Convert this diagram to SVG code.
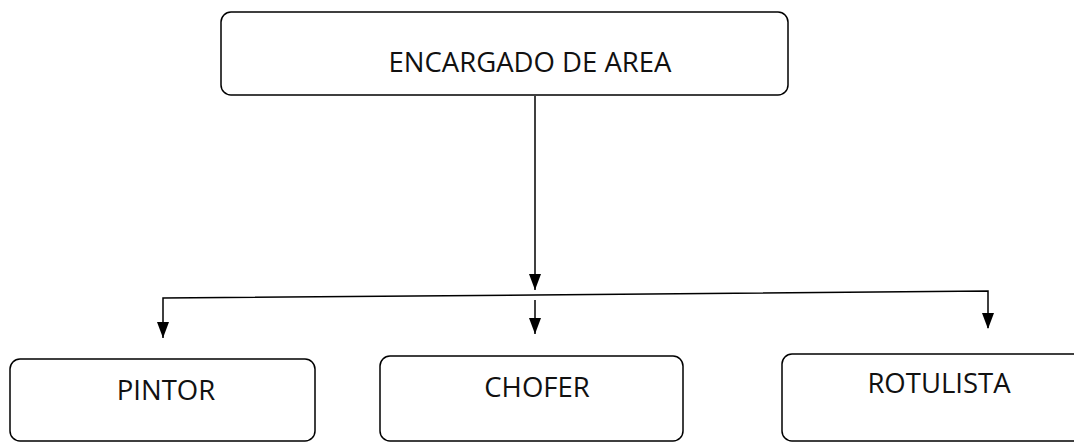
<svg xmlns="http://www.w3.org/2000/svg" width="1074" height="444" viewBox="0 0 1074 444">
<style>
.box{fill:#fff;stroke:#000;stroke-width:1.5}
.lbl{font-family:"Open Sans","Liberation Sans",sans-serif;font-size:27.5px;fill:#111;text-anchor:middle}
.ln{fill:none;stroke:#000;stroke-width:1.5}
.ah{fill:#000}
</style>
<rect width="1074" height="444" fill="#fff"/>
<g id="connectors">
<path class="ln" d="M535,96 V290"/>
<path class="ah" d="M529,274 L541,274 L535,290 Z"/>
<path class="ln" d="M163,338 V298 L535,295 L988,291 V328"/>
<path class="ah" d="M157,322 L169,322 L163,338 Z"/>
<path class="ln" d="M535,300 V334"/>
<path class="ah" d="M529,318 L541,318 L535,334 Z"/>
<path class="ah" d="M982,313 L994,313 L988,329 Z"/>
</g>
<g id="encargado">
<rect class="box" x="221" y="12" width="567" height="83" rx="10"/>
<text class="lbl" x="530" y="72">ENCARGADO DE AREA</text>
</g>
<g id="pintor">
<rect class="box" x="10" y="359" width="305" height="82" rx="10"/>
<text class="lbl" x="166" y="400">PINTOR</text>
</g>
<g id="chofer">
<rect class="box" x="380" y="356" width="303" height="85" rx="10"/>
<text class="lbl" x="537" y="397">CHOFER</text>
</g>
<g id="rotulista">
<rect class="box" x="782" y="354" width="310" height="87" rx="10"/>
<text class="lbl" x="939" y="393">ROTULISTA</text>
</g>
</svg>
